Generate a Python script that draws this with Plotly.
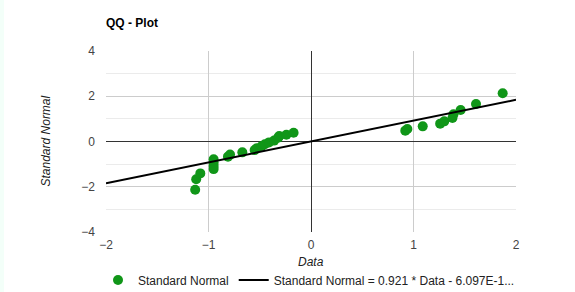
import plotly.graph_objects as go

data_x = [-1.13, -1.12, -1.08, -0.95, -0.95, -0.95, -0.95, -0.81, -0.79, -0.67,
          -0.55, -0.53, -0.48, -0.45, -0.41, -0.36, -0.32, -0.31, -0.24, -0.17,
          0.92, 0.94, 1.09, 1.26, 1.30, 1.38, 1.39, 1.46, 1.61, 1.87]
normal_y = [-2.13, -1.67, -1.41, -0.79, -0.94, -1.08, -1.22, -0.67, -0.58, -0.48,
            -0.38, -0.30, -0.20, -0.12, -0.04, 0.04, 0.17, 0.24, 0.30, 0.39,
            0.48, 0.55, 0.67, 0.79, 0.89, 1.04, 1.20, 1.39, 1.66, 2.13]
slope = 0.921
intercept = -6.097e-17
line_x = [-2, 2]
line_y = [slope * v + intercept for v in line_x]

x_ticks = [-2, -1, 0, 1, 2]
y_ticks = [-4, -2, 0, 2, 4]

font = "Liberation Sans, Arial, sans-serif"
PW, PH = 410, 181  # plot area size in px

fig = go.Figure()
fig.add_trace(go.Scatter(
    x=data_x, y=normal_y, mode="markers", name="Standard Normal",
    marker=dict(color="#109618", size=10, line=dict(width=0)),
))
fig.add_trace(go.Scatter(
    x=line_x, y=line_y, mode="lines",
    name="Standard Normal = 0.921 * Data - 6.097E-1...",
    line=dict(color="#000000", width=2),
))

fig.update_layout(
    width=575, height=292,
    margin=dict(l=106, r=59, t=51, b=60, autoexpand=False),
    paper_bgcolor="white", plot_bgcolor="white",
    font=dict(family=font, size=12, color="#222"),
    title=dict(text="<b>QQ - Plot</b>", x=106/575, xanchor="left", y=1 - 23/292, yanchor="middle",
               font=dict(family=font, size=12, color="#000")),
    showlegend=True,
    legend=dict(orientation="h", x=-8/PW, xanchor="left", y=-48/PH, yanchor="middle",
                font=dict(family=font, size=12, color="#222"),
                tracegroupgap=0, bgcolor="rgba(0,0,0,0)"),
    xaxis=dict(range=[-2, 2], tickvals=x_ticks, showgrid=True, gridcolor="#cccccc",
               zeroline=True, zerolinecolor="#333333", zerolinewidth=1,
               tickfont=dict(color="#444", size=12), ticklabelstandoff=4,
               showline=False, ticks=""),
    yaxis=dict(range=[-4, 4], tickvals=y_ticks, showgrid=True, gridcolor="#cccccc",
               minor=dict(dtick=1, showgrid=True, gridcolor="#ebebeb"),
               zeroline=True, zerolinecolor="#333333", zerolinewidth=1,
               tickfont=dict(color="#444", size=12), ticklabelstandoff=10,
               showline=False, ticks=""),
    annotations=[
        dict(text="<i>Data</i>", xref="paper", yref="paper", x=0.5, y=-30/PH,
             xanchor="center", yanchor="middle", showarrow=False,
             font=dict(size=12, color="#222")),
        dict(text="<i>Standard Normal</i>", xref="paper", yref="paper", x=-61/PW, y=0.5,
             xanchor="center", yanchor="middle", showarrow=False, textangle=-90,
             font=dict(size=12, color="#222")),
    ],
    shapes=[dict(type="rect", xref="paper", yref="paper", x0=-106/PW, x1=-102/PW,
                 y0=-60/PH, y1=1 + 51/PH, fillcolor="#f3fff9", line=dict(width=0), layer="below")],
)

fig.write_html("out.html", config={"displayModeBar": False},
               post_script="document.body.style.margin='0';")
